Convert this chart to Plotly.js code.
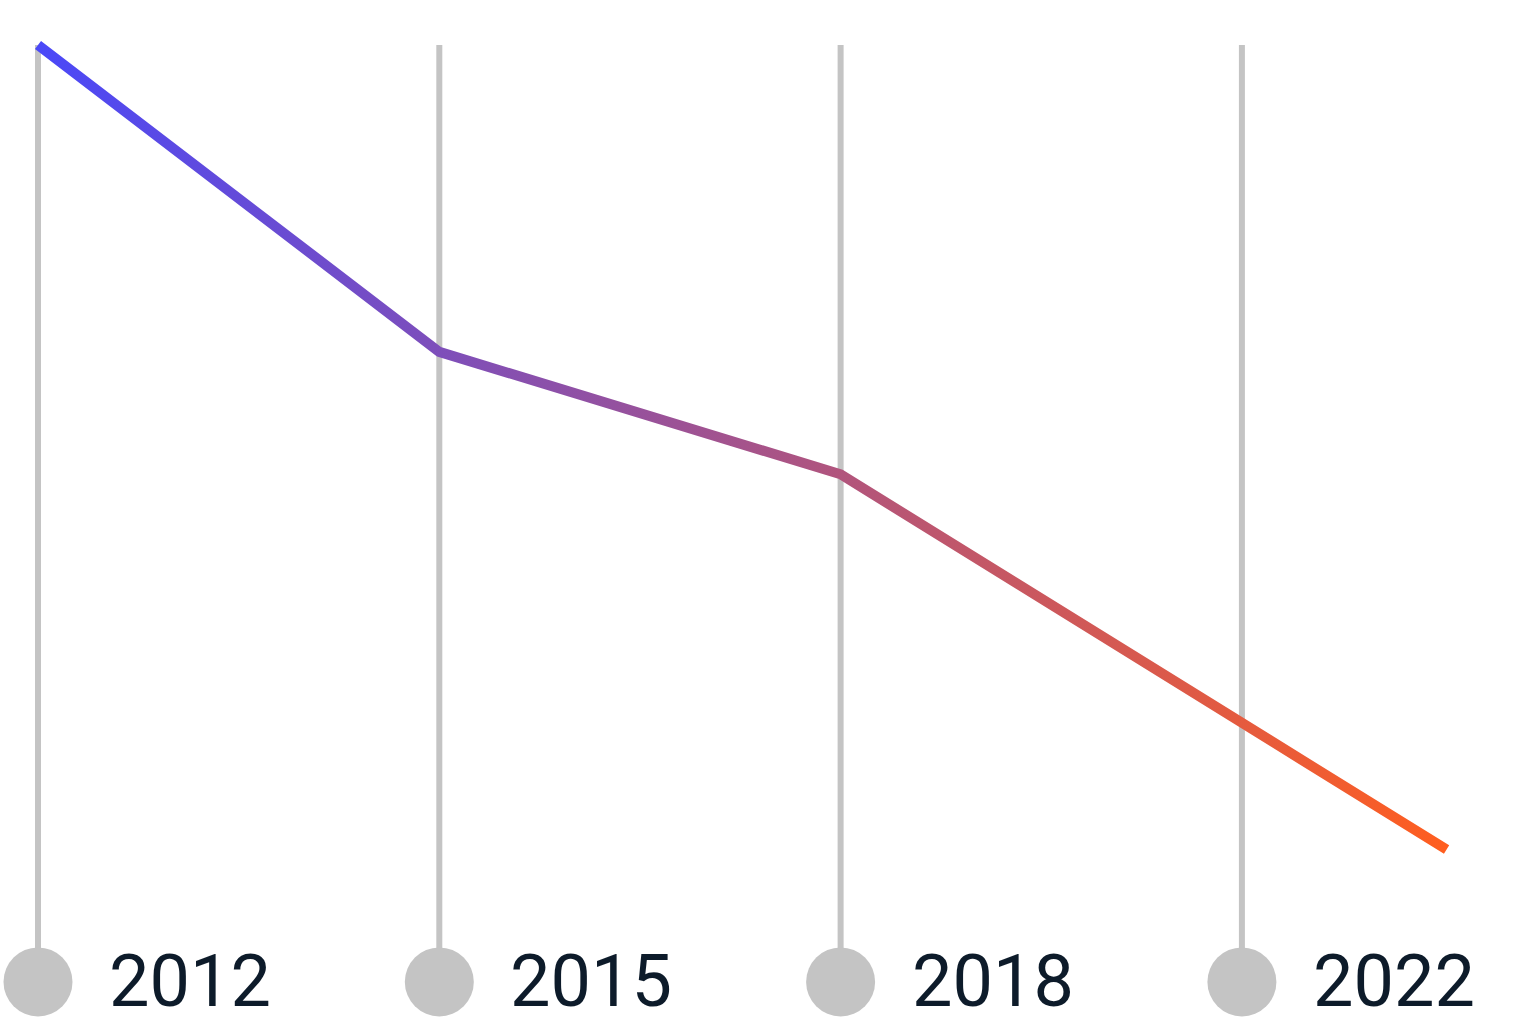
<!DOCTYPE html>
<html>
<head>
<meta charset="utf-8">
<script src="https://cdn.plot.ly/plotly-3.0.1.min.js"></script>
<style>
  html, body { margin: 0; padding: 0; background: #ffffff; }
  #chart { width: 1516px; height: 1035px; }
</style>
</head>
<body>
<div id="chart"></div>
<script>
// ---- data ----
const years = ["2012", "2015", "2018", "2022"];
const yearPositions = [0, 1, 2, 3];
const lineX = [0, 1, 2, 3.51];
const lineY = [100, 65.9, 52.3, 10.6];
const guideTop = 100;
const markerLevel = -4.1;

// ---- styles ----
const guideColor = "#c4c4c4";
const textColor = "#0d1b2a";
const gradStart = "#4a48f8";
const gradEnd = "#ff5e1f";

const guideX = [], guideY = [];
yearPositions.forEach(p => { guideX.push(p, p, null); guideY.push(guideTop, markerLevel, null); });

const traces = [
  { x: guideX, y: guideY, mode: "lines", line: { color: guideColor, width: 6 }, hoverinfo: "skip", showlegend: false },
  { x: yearPositions, y: yearPositions.map(() => markerLevel), mode: "markers",
    marker: { color: guideColor, size: 69, line: { width: 0 } }, hoverinfo: "skip", showlegend: false },
  { x: lineX, y: lineY, mode: "lines", line: { color: gradStart, width: 10 }, hoverinfo: "skip", showlegend: false }
];

const annotations = years.map((t, i) => ({
  x: yearPositions[i], y: markerLevel, xref: "x", yref: "y",
  text: t, showarrow: false, xanchor: "left", yanchor: "middle", xshift: 69, yshift: 0,
  font: { family: "Roboto, sans-serif", size: 72, color: textColor }
}));

const layout = {
  width: 1516, height: 1035,
  margin: { l: 0, r: 0, t: 0, b: 0, pad: 0 },
  paper_bgcolor: "#ffffff", plot_bgcolor: "#ffffff",
  xaxis: { range: [-0.0947, 3.683], visible: false, fixedrange: true },
  yaxis: { range: [-10, 105], visible: false, fixedrange: true },
  showlegend: false,
  annotations: annotations
};

const gd = document.getElementById("chart");
Plotly.newPlot(gd, traces, layout, { staticPlot: true, displayModeBar: false }).then(() => {
  const xa = gd._fullLayout.xaxis;
  const svg = gd.querySelector(".main-svg");
  let defs = svg.querySelector("defs");
  if (!defs) { defs = document.createElementNS("http://www.w3.org/2000/svg", "defs"); svg.insertBefore(defs, svg.firstChild); }
  const ns = "http://www.w3.org/2000/svg";
  const grad = document.createElementNS(ns, "linearGradient");
  grad.setAttribute("id", "lineGrad");
  grad.setAttribute("gradientUnits", "userSpaceOnUse");
  grad.setAttribute("x1", xa.l2p(lineX[0]));
  grad.setAttribute("x2", xa.l2p(lineX[lineX.length - 1]));
  grad.setAttribute("y1", 0);
  grad.setAttribute("y2", 0);
  [[0, gradStart], [1, gradEnd]].forEach(([o, c]) => {
    const s = document.createElementNS(ns, "stop");
    s.setAttribute("offset", o);
    s.setAttribute("stop-color", c);
    grad.appendChild(s);
  });
  defs.appendChild(grad);
  const tracesEls = gd.querySelectorAll(".scatterlayer .trace");
  const path = tracesEls[2].querySelector("path.js-line");
  path.style.setProperty("stroke", "url(#lineGrad)");
});
</script>
</body>
</html>
